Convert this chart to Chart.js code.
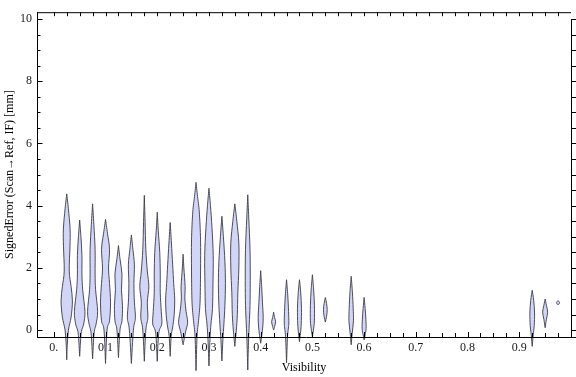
<!DOCTYPE html>
<html>
<head>
<meta charset="utf-8">
<script src="https://cdn.jsdelivr.net/npm/chart.js@4.4.0/dist/chart.umd.min.js"></script>
<style>
body { margin: 0; background: #fff; }
</style>
</head>
<body>
<canvas id="myChart" width="576" height="377"></canvas>
<script>
// violin centres (Visibility bins)
const violinX = [0.025, 0.05, 0.075, 0.1, 0.125, 0.15, 0.175, 0.2, 0.225, 0.25, 0.275, 0.3,
	0.325, 0.35, 0.375, 0.4, 0.425, 0.45, 0.475, 0.5, 0.525, 0.575, 0.6, 0.925, 0.95, 0.975]

// signed error levels of each violin outline, top tip to bottom tip [mm]
const violinY = [
	[4.38, 3.9, 3.25, 2.7, 1.9, 1.4, 0.94, 0.42, 0.0, -0.5, -0.95],
	[3.54, 3.0, 2.4, 1.8, 1.3, 0.6, 0.2, -0.1, -0.84],
	[4.06, 3.4, 2.6, 1.8, 1.3, 0.6, 0.2, -0.1, -0.92],
	[3.56, 3.1, 2.6, 2.0, 1.5, 0.9, 0.3, 0.0, -1.07],
	[2.72, 2.3, 1.8, 1.3, 0.8, 0.3, 0.0, -0.88],
	[3.06, 2.6, 2.1, 1.5, 0.9, 0.4, 0.0, -1.07],
	[4.33, 3.5, 2.6, 1.9, 1.4, 0.9, 0.4, 0.0, -1.0],
	[3.79, 3.2, 2.5, 1.8, 1.2, 0.6, 0.2, -0.1, -1.0],
	[3.46, 2.8, 2.1, 1.5, 1.0, 0.5, 0.1, -0.2, -0.84],
	[2.44, 2.0, 1.4, 1.0, 0.6, 0.25, -0.05, -0.47],
	[4.75, 4.3, 3.8, 2.9, 1.9, 0.9, 0.3, -0.2, -1.3],
	[4.56, 4.0, 3.3, 2.4, 1.5, 0.7, 0.2, -0.3, -1.15],
	[3.66, 3.0, 2.2, 1.5, 0.8, 0.2, -0.3, -0.99],
	[4.06, 3.5, 2.8, 2.0, 1.2, 0.5, 0.0, -0.52],
	[4.35, 3.6, 2.6, 1.6, 0.8, 0.2, -0.4, -1.28],
	[1.91, 1.4, 0.9, 0.4, 0.0, -0.42],
	[0.58, 0.4, 0.27, 0.12, 0.0],
	[1.62, 1.1, 0.6, 0.2, -0.2, -1.05],
	[1.62, 1.2, 0.7, 0.2, -0.1, -0.37],
	[1.78, 1.3, 0.8, 0.3, 0.0, -0.21],
	[1.05, 0.85, 0.66, 0.45, 0.26],
	[1.73, 1.2, 0.7, 0.3, -0.1, -0.47],
	[1.05, 0.7, 0.35, 0.05, -0.15, -0.31],
	[1.28, 0.95, 0.55, 0.15, -0.15, -0.52],
	[1.0, 0.8, 0.58, 0.35, 0.08],
	[0.95, 0.88, 0.81]
]

// relative density at those levels
const violinD = [
	[0, 3.3, 6.7, 6.5, 5, 8.7, 11.3, 8.7, 3.3, 1, 0],
	[0, 2.5, 4.5, 4.5, 6, 10.5, 8, 3, 0],
	[0, 2.5, 5, 5, 6, 10, 7, 3, 0],
	[0, 4, 8, 6, 8, 10, 8, 3, 0],
	[0, 3, 7, 6, 8, 7, 3, 0],
	[0, 3, 6, 5, 6, 8, 4, 0],
	[0, 1.5, 3, 6, 9, 6, 7, 3, 0],
	[0, 2, 5, 6, 6, 8, 9, 3, 0],
	[0, 2.5, 5, 7, 9, 8, 5, 2, 0],
	[0, 1.5, 4, 3.5, 6, 9, 5, 0],
	[0, 3, 6.5, 9, 9, 8, 5, 2, 0],
	[0, 3, 6, 8.5, 8, 7, 4, 2, 0],
	[0, 3, 6, 7, 6, 4, 2, 0],
	[0, 4, 8, 8, 6, 5, 3, 0],
	[0, 2, 4.5, 5, 4.5, 3, 1.5, 0],
	[0, 2, 3.5, 5, 3.5, 0],
	[0, 2, 4, 2, 0],
	[0, 2.5, 4, 4.5, 2, 0],
	[0, 2.5, 4, 3.5, 2, 0],
	[0, 2.5, 4, 4, 2, 0],
	[0, 2.5, 3.7, 2.5, 0],
	[0, 2.5, 4, 4.5, 2, 0],
	[0, 2, 3.5, 4, 2, 0],
	[0, 3, 4.7, 4, 2, 0],
	[0, 2.5, 5, 2.5, 0],
	[0, 3, 0]
]

const xTickValues = [0, 0.1, 0.2, 0.3, 0.4, 0.5, 0.6, 0.7, 0.8, 0.9]
const xTickLabels = ['0.', '0.1', '0.2', '0.3', '0.4', '0.5', '0.6', '0.7', '0.8', '0.9']
const yTickValues = [0, 2, 4, 6, 8, 10]
const yTickLabels = ['0', '2', '4', '6', '8', '10']

// half width (in Visibility units) for one unit of density
const densityScale = 0.00097
const fillColor = 'rgb(209, 214, 248)'
const edgeColor = 'rgba(60, 60, 70, 0.9)'
const axisColor = '#000'
const labelFont = {family: 'Liberation Serif', size: 12}

function spline(ctx, pts, first){
	if (first) ctx.moveTo(pts[0][0], pts[0][1])
	for (let i = 0; i < pts.length - 1; i++) {
		const p0 = pts[Math.max(i - 1, 0)]
		const p1 = pts[i]
		const p2 = pts[i + 1]
		const p3 = pts[Math.min(i + 2, pts.length - 1)]
		ctx.bezierCurveTo(
			p1[0] + (p2[0] - p0[0]) / 6, p1[1] + (p2[1] - p0[1]) / 6,
			p2[0] - (p3[0] - p1[0]) / 6, p2[1] - (p3[1] - p1[1]) / 6,
			p2[0], p2[1])
	}
}

const violinPlugin = {
	id: 'violins',
	afterDatasetsDraw(chart){
		const ctx = chart.ctx
		const xs = chart.scales.x
		const ys = chart.scales.y
		ctx.save()
		violinX.forEach((cx, i) => {
			const lv = violinY[i]
			const dn = violinD[i]
			const right = lv.map((v, j) => [xs.getPixelForValue(cx + dn[j] * densityScale), ys.getPixelForValue(v)])
			const left = lv.map((v, j) => [xs.getPixelForValue(cx - dn[j] * densityScale), ys.getPixelForValue(v)]).reverse()
			ctx.beginPath()
			spline(ctx, right, true)
			spline(ctx, left, false)
			ctx.closePath()
			ctx.fillStyle = fillColor
			ctx.fill()
			ctx.lineWidth = 1
			ctx.strokeStyle = edgeColor
			ctx.stroke()
		})
		ctx.restore()
	}
}

// Mathematica style frame with inward ticks
const framePlugin = {
	id: 'frame',
	afterDraw(chart){
		const ctx = chart.ctx
		const {left, right, top, bottom} = chart.chartArea
		const xs = chart.scales.x
		const ys = chart.scales.y
		ctx.save()
		ctx.strokeStyle = axisColor
		ctx.lineWidth = 1
		ctx.beginPath()
		ctx.moveTo(left + 0.5, top)
		ctx.lineTo(left + 0.5, bottom)
		ctx.moveTo(left, top + 0.5)
		ctx.lineTo(right, top + 0.5)
		ctx.moveTo(left, bottom + 0.5)
		ctx.lineTo(chart.width, bottom + 0.5)
		ctx.moveTo(right + 0.5, ys.getPixelForValue(10))
		ctx.lineTo(right + 0.5, bottom)
		for (let k = 0; k <= 20; k++) {
			const py = Math.round(ys.getPixelForValue(k * 0.5)) + 0.5
			const len = k % 4 == 0 ? 5.5 : 3.5
			ctx.moveTo(left, py)
			ctx.lineTo(left + len, py)
			ctx.moveTo(right, py)
			ctx.lineTo(right + 5, py)
		}
		for (let k = 0; k < 40; k++) {
			const px = Math.round(xs.getPixelForValue(k * 0.025)) + 0.5
			const len = k % 4 == 0 ? 5 : 4
			ctx.moveTo(px, bottom)
			ctx.lineTo(px, bottom - len)
			ctx.moveTo(px, top)
			ctx.lineTo(px, top + 4)
		}
		ctx.stroke()
		ctx.restore()
	}
}

var ctx = document.getElementById('myChart').getContext('2d');

var myChart = new Chart(ctx, {
	type: 'scatter',
	data: {
		datasets: [{
			data: violinX.map((x, i) => ({x: x, y: violinY[i][0]})),
			pointRadius: 0
		}]
	},
	options: {
		responsive: false,
		animation: false,
		devicePixelRatio: 1,
		layout: {padding: {top: 5, right: 5, left: 0, bottom: 0}},
		plugins: {legend: {display: false}, tooltip: {enabled: false}},
		scales: {
			x: {
				type: 'linear',
				min: -0.0325,
				max: 1.0,
				grid: {display: false, drawTicks: false},
				border: {display: false},
				afterBuildTicks: s => { s.ticks = xTickValues.map(v => ({value: v})) },
				afterFit: s => { s.height = 40 },
				ticks: {
					font: labelFont,
					color: '#1a1a1a',
					padding: 4,
					maxRotation: 0,
					autoSkip: false,
					callback: (v, i) => xTickLabels[i]
				},
				title: {
					display: true,
					text: 'Visibility',
					font: labelFont,
					color: '#000',
					padding: {top: 0, bottom: 2}
				}
			},
			y: {
				min: -0.22,
				max: 10.22,
				grid: {display: false, drawTicks: false},
				border: {display: false},
				afterBuildTicks: s => { s.ticks = yTickValues.map(v => ({value: v})) },
				afterFit: s => { s.width = 37 },
				ticks: {
					font: labelFont,
					color: '#1a1a1a',
					padding: 5,
					autoSkip: false,
					callback: (v, i) => yTickLabels[i]
				},
				title: {
					display: true,
					text: 'SignedError (Scan\u2192Ref, IF) [mm]',
					font: labelFont,
					color: '#000',
					padding: {top: 3, bottom: 0}
				}
			}
		}
	},
	plugins: [violinPlugin, framePlugin]
});

myChart.update()
</script>
</body>
</html>
